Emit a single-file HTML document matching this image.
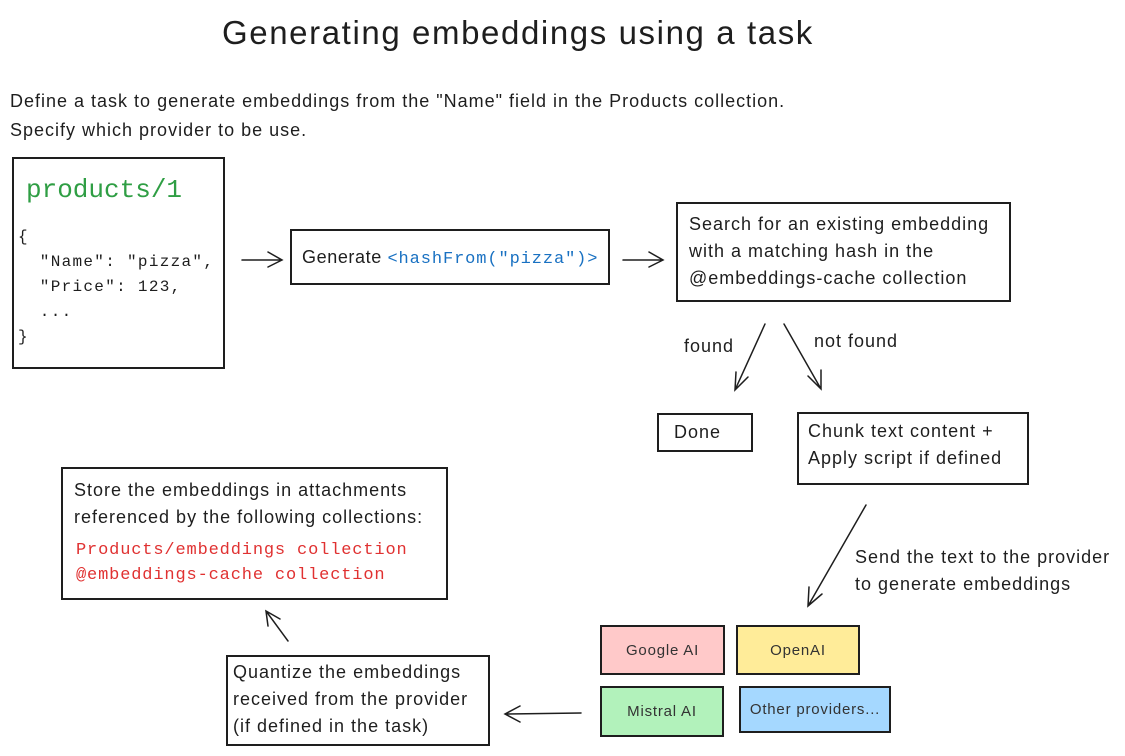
<!DOCTYPE html>
<html><head><meta charset="utf-8">
<style>
body{margin:0;width:1125px;height:756px;background:#fff;position:relative;font-family:"Liberation Sans",sans-serif;color:#1e1e1e;overflow:hidden}
.a{position:absolute;white-space:nowrap}
.b{position:absolute;border:2px solid #1e1e1e;box-sizing:border-box}
.m{font-family:"Liberation Mono",monospace}
.t{font-size:18px;line-height:27px;letter-spacing:1px}
.p{position:absolute;border:2px solid #1e1e1e;box-sizing:border-box;font-size:15px;letter-spacing:0.8px;display:flex;align-items:center;justify-content:center;color:#333}
</style></head><body>
<div class="a" style="left:222px;top:14px;font-size:33px;letter-spacing:1.6px">Generating embeddings using a task</div>
<div class="a t" style="left:10px;top:88px">Define a task to generate embeddings from the "Name" field in the Products collection.</div>
<div class="a t" style="left:10px;top:117px">Specify which provider to be use.</div>

<div class="b" style="left:12px;top:157px;width:213px;height:212px"></div>
<div class="a m" style="left:26px;top:175px;font-size:26px;color:#2f9e44">products/1</div>
<div class="a m" style="left:18px;top:225px;font-size:16px;line-height:25px;white-space:pre;letter-spacing:1.3px">{
  "Name": "pizza",
  "Price": 123,
  ...
}</div>

<div class="b" style="left:290px;top:229px;width:320px;height:56px"></div>
<div class="a" style="left:302px;top:247px;font-size:18px;letter-spacing:0.6px">Generate <span class="m" style="color:#1971c2;font-size:17px;letter-spacing:0.9px">&lt;hashFrom("pizza")&gt;</span></div>

<div class="b" style="left:676px;top:202px;width:335px;height:100px"></div>
<div class="a t" style="left:689px;top:211px">Search for an existing embedding<br>with a matching hash in the<br>@embeddings-cache collection</div>

<div class="a t" style="left:684px;top:333px">found</div>
<div class="a t" style="left:814px;top:328px">not found</div>

<div class="b" style="left:657px;top:413px;width:96px;height:39px"></div>
<div class="a t" style="left:674px;top:419px">Done</div>

<div class="b" style="left:797px;top:412px;width:232px;height:73px"></div>
<div class="a t" style="left:808px;top:418px">Chunk text content +<br>Apply script if defined</div>

<div class="a t" style="left:855px;top:544px">Send the text to the provider<br>to generate embeddings</div>

<div class="b" style="left:61px;top:467px;width:387px;height:133px"></div>
<div class="a t" style="left:74px;top:477px">Store the embeddings in attachments<br>referenced by the following collections:</div>
<div class="a m" style="left:76px;top:538px;font-size:17px;line-height:25px;color:#e03131;letter-spacing:0.85px">Products/embeddings collection<br>@embeddings-cache collection</div>

<div class="b" style="left:226px;top:655px;width:264px;height:91px"></div>
<div class="a t" style="left:233px;top:659px">Quantize the embeddings<br>received from the provider<br>(if defined in the task)</div>

<div class="p" style="left:600px;top:625px;width:125px;height:50px;background:#ffc9c9">Google AI</div>
<div class="p" style="left:736px;top:625px;width:124px;height:50px;background:#ffec99">OpenAI</div>
<div class="p" style="left:600px;top:686px;width:124px;height:51px;background:#b2f2bb">Mistral AI</div>
<div class="p" style="left:739px;top:686px;width:152px;height:47px;background:#a5d8ff">Other providers...</div>

<svg width="1125" height="756" style="position:absolute;left:0;top:0" fill="none" stroke="#1e1e1e" stroke-width="1.5" stroke-linecap="round">
<path d="M242 260 L282 260 M268 252 L282 260 L268 267"/>
<path d="M623 260 L663 260 M649 252 L663 260 L649 267"/>
<path d="M765 324 L735 390 M736 372 L735 390 L748 377"/>
<path d="M784 324 L821 389 M808 376 L821 389 L821 370"/>
<path d="M866 505 L808 606 M809 587 L808 606 L822 594"/>
<path d="M581 713 L505 714 M520 706 L505 714 L520 722"/>
<path d="M288 641 L266 611 M268 626 L266 611 L280 619"/>
</svg>
</body></html>
